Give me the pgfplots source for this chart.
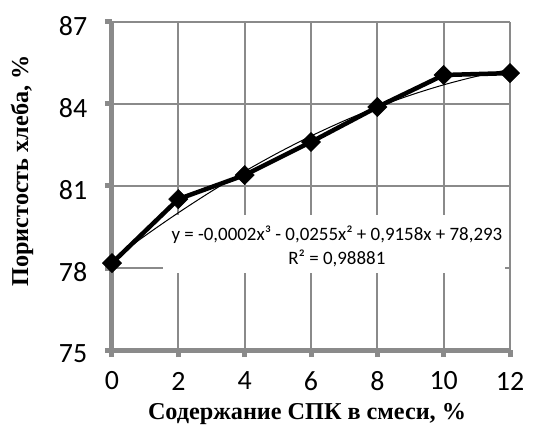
\documentclass[border=0pt]{standalone}
\usepackage{pgfplots}
\pgfplotsset{compat=1.18}
\usepackage{fontspec}
\setmainfont{Liberation Serif}
\newfontfamily\carlito{Carlito}
\definecolor{axgray}{HTML}{8A8A8A}
\begin{document}
\begin{tikzpicture}
\begin{axis}[
  at={(0,0)}, anchor=south west,
  scale only axis, width=398bp, height=328bp,
  xmin=0, xmax=12, ymin=75, ymax=87,
  xtick={0,2,...,12}, ytick={75,78,81,84,87},
  axis x line*=bottom, axis y line*=left,
  axis line style={line width=5bp, axgray, -},
  grid=major, grid style={line width=1.8bp, axgray},
  tick align=outside, major tick length=7bp,
  tick style={line width=5bp, axgray},
  /pgf/number format/assume math mode=true,
  ticklabel style={font=\carlito\fontsize{28}{32}\selectfont, text=black},
  xticklabel style={anchor=center, yshift=-24bp},
  yticklabel style={anchor=center, xshift=-32bp, yshift=-4bp},
  xlabel={\fontsize{24.3}{28}\selectfont\bfseries Содержание СПК в смеси, \%},
  ylabel={\fontsize{24.3}{28}\selectfont\bfseries Пористость хлеба, \%},
  xlabel style={at={(axis description cs:0.49,-0.195)}, anchor=center},
  ylabel style={at={(axis description cs:-0.226,0.546)}, anchor=center, rotate=0},
  clip=false,
]
\fill[white] (axis cs:1.54,77.82) rectangle (axis cs:11.85,79.94);
\node[font=\carlito\fontsize{19}{22}\selectfont] at (axis cs:6.78,79.21) {y = -0,0002x³ - 0,0255x² + 0,9158x + 78,293};
\node[font=\carlito\fontsize{19}{22}\selectfont] at (axis cs:6.78,78.36) {R² = 0,98881};
\addplot[black, line width=4.5bp, mark=square*, mark size=6.8bp,
  mark options={solid, fill=black, rotate=45, line width=0.5bp}]
  coordinates {(0,78.18) (2,80.52) (4,81.40) (6,82.61) (8,83.89) (10,85.06) (12,85.13)};
\addplot[black, line width=1bp, smooth, no marks]
  coordinates {(0,78.293) (1,79.183) (2,80.021) (3,80.806) (4,81.535) (5,82.210) (6,82.827) (7,83.386) (8,83.885) (9,84.324) (10,84.701) (11,85.015) (12,85.265)};
\end{axis}
\pgfresetboundingbox
\path[use as bounding box] (-112bp,-88bp) rectangle (439bp,350bp);
\end{tikzpicture}
\end{document}
